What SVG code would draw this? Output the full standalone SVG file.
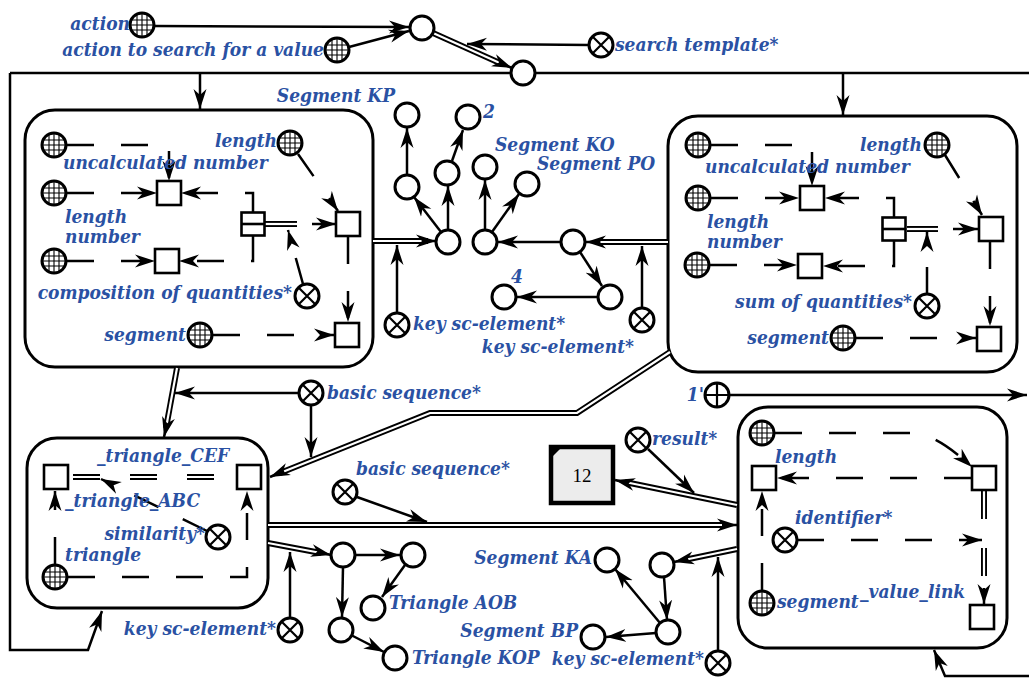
<svg xmlns="http://www.w3.org/2000/svg" width="1029" height="680" viewBox="0 0 1029 680">
<style>
.n{fill:#fff;stroke:#000;stroke-width:3}
.s{fill:#fff;stroke:#000;stroke-width:2.6}
.l{fill:none;stroke:#000;stroke-width:2.5}
.a{marker-end:url(#ar)}
.d{stroke-dasharray:27 27}
.bo{fill:none;stroke:#000;stroke-width:6}
.bi{fill:none;stroke:#fff;stroke-width:2.2}
.box{fill:#fff;stroke:#000;stroke-width:3}
.t{font-family:"DejaVu Serif",serif;font-stretch:condensed;font-weight:bold;font-style:italic;font-size:19px;fill:#2a51a3}
.e{text-anchor:end}
</style>
<defs>
<marker id="ar" markerUnits="userSpaceOnUse" markerWidth="22" markerHeight="14" refX="20" refY="7" orient="auto"><path d="M0,0.5L20,7L0,13.5L6,7Z" fill="#000"/></marker>
<g id="gr"><circle r="12" class="n"/><path d="M-5,-10.9V10.9M0,-12V12M5,-10.9V10.9M-10.9,-5H10.9M-12,0H12M-10.9,5H10.9" stroke="#000" stroke-width="1.1" fill="none"/></g>
<g id="tx"><circle r="12" class="n"/><path d="M-8.5,-8.5L8.5,8.5M-8.5,8.5L8.5,-8.5" stroke="#000" stroke-width="2.2"/></g>
<g id="pl"><circle r="12" class="n"/><path d="M0,-12V12M-12,0H12" stroke="#000" stroke-width="2.2"/></g>
<circle id="nd" r="12" class="n"/>
<rect id="sq" x="-12" y="-12" width="24" height="24" class="s"/>
<g id="sp"><rect x="-11.5" y="-11.5" width="23" height="23" class="s"/><path d="M-11.5,0H11.5" stroke="#000" stroke-width="2.6"/></g>
</defs>

<g id="box_composition"><rect class="box" x="25" y="110" width="348" height="257" rx="30"/></g>
<g id="box_sum"><rect class="box" x="668" y="116" width="349" height="256" rx="30"/></g>
<g id="box_similarity"><rect class="box" x="27" y="438" width="241" height="170" rx="30"/></g>
<g id="box_value"><rect class="box" x="738" y="407" width="269" height="241" rx="30"/></g>

<g id="connectors">
<path class="l a" d="M10,73V650H88L102,611"/>
<path class="l" d="M10,73H511"/>
<path class="l" d="M535,73H1029"/>
<path class="l a" d="M200,73V109"/>
<path class="l a" d="M843,73V115"/>
<path class="l a" d="M1029,676H945L934,650"/>

<path class="l a" d="M155,26L409,27"/>
<path class="l a" d="M349,47L409,31"/>
<path class="bo" d="M433,33L502,64"/><path class="bi" d="M433,33L502,64"/><path class="l a" d="M500,63L512,68"/>
<path class="l a" d="M589,45L467,44"/>

<path class="l d a" d="M67,145H169V181"/>
<path class="l d a" d="M67,193H157"/>
<path class="l d a" d="M253,212V193H181"/>
<path class="l d a" d="M253,236V261H179"/>
<path class="l d a" d="M67,261H155"/>
<path class="bo" d="M265,224H297"/><path class="bi" d="M265,224H297"/>
<path class="l a" d="M312,224H336"/>
<path class="l d a" d="M303,284L288,230"/>
<path class="l d a" d="M298,154L338,211"/>
<path class="l d a" d="M348,237V322"/>
<path class="l d a" d="M213,335H334"/>

<path class="l a" d="M407,175V128"/>
<path class="l a" d="M452,161L463,130"/>
<path class="l a" d="M441,232L414,197"/>
<path class="l a" d="M448,230V186"/>
<path class="l a" d="M485,230V180"/>
<path class="l a" d="M492,232L519,194"/>
<path class="bo" d="M373,241H428"/><path class="bi" d="M373,241H428"/><path class="l a" d="M424,241H436"/>
<path class="l a" d="M397,313V245"/>
<path class="l a" d="M561,242H498"/>
<path class="bo" d="M668,242H595"/><path class="bi" d="M668,242H595"/><path class="l a" d="M598,242H586"/>
<path class="l a" d="M642,308V246"/>
<path class="l a" d="M580,252L602,286"/>
<path class="l a" d="M598,297H517"/>

<path class="l d a" d="M711,145H812V186"/>
<path class="l d a" d="M711,198H799"/>
<path class="l d a" d="M894,217V198H825"/>
<path class="l d a" d="M894,241V266H823"/>
<path class="l d a" d="M710,265H797"/>
<path class="bo" d="M907,229H938"/><path class="bi" d="M907,229H938"/>
<path class="l a" d="M953,229H978"/>
<path class="l d a" d="M927,294V232"/>
<path class="l d a" d="M945,155L982,215"/>
<path class="l d a" d="M990,242V326"/>
<path class="l d a" d="M856,338H976"/>

<path class="bo" d="M177,368L166,428"/><path class="bi" d="M177,368L166,428"/><path class="l a" d="M167,424L164,437"/>
<path class="l a" d="M299,393H175"/>
<path class="l a" d="M311,405V457"/>
<path class="bo" d="M670,352L577,413H430L280,473"/><path class="bi" d="M670,352L577,413H430L280,473"/><path class="l a" d="M284,471L270,477"/>

<path class="bo" style="stroke-dasharray:27 30" d="M73,477H237"/><path class="bi" d="M73,477H237"/>
<path class="l d a" d="M207,531L101,479"/>
<path class="l d a" d="M55,564V491"/>
<path class="l d a" d="M68,577H247V491"/>

<path class="bo" d="M268,525H726"/><path class="bi" d="M268,525H726"/><path class="l a" d="M722,525H737"/>
<path class="l a" d="M357,497L427,522"/>
<path class="bo" d="M268,543L321,553"/><path class="bi" d="M268,543L321,553"/><path class="l a" d="M318,552L331,555"/>
<path class="l a" d="M290,618V552"/>
<path class="l a" d="M355,555H400"/>
<path class="l a" d="M343,567L342,617"/>
<path class="l a" d="M405,565L382,597"/>
<path class="l a" d="M351,635L384,652"/>

<path class="bo" d="M737,549L684,560"/><path class="bi" d="M737,549L684,560"/><path class="l a" d="M688,559L674,562"/>
<path class="l a" d="M718,651V557"/>
<path class="l a" d="M664,577L667,620"/>
<path class="l a" d="M660,623L615,569"/>
<path class="l a" d="M656,633L606,637"/>
<path class="bo" d="M737,505L625,482"/><path class="bi" d="M737,505L625,482"/><path class="l a" d="M628,483L615,480"/>
<path class="l a" d="M648,449L694,493"/>
<path class="l a" d="M730,395H1027"/>

<path class="l d a" d="M775,433H912Q935,433 972,467"/>
<path class="l d a" d="M971,478H777"/>
<path class="l d a" d="M797,540H982"/>
<path class="bo" style="stroke-dasharray:28 29" d="M984,491V594"/><path class="bi" d="M984,491V594"/><path class="l a" d="M984,588V604"/>
<path class="l d a" d="M762,590V491"/>
</g>

<g id="n_action"><use href="#gr" x="142" y="25"/><text class="t e" x="130" y="30">action</text></g>
<g id="n_action_search"><use href="#gr" x="337" y="50"/><text class="t e" x="324" y="56">action to search for a value</text></g>
<g id="n_c1"><use href="#nd" x="422" y="28"/></g>
<g id="n_c2"><use href="#nd" x="523" y="73"/></g>
<g id="n_template"><use href="#tx" x="601" y="45"/><text class="t" x="615" y="51">search template*</text></g>

<g id="n_l_g1"><use href="#gr" x="54" y="145"/></g>
<g id="n_l_g2"><use href="#gr" x="54" y="193"/></g>
<g id="n_l_g3"><use href="#gr" x="54" y="261"/></g>
<g id="n_l_length"><use href="#gr" x="290" y="143"/><text class="t e" x="277" y="147">length</text></g>
<g id="n_l_segment"><use href="#gr" x="200" y="335"/><text class="t e" x="186" y="341">segment</text></g>
<g id="n_l_sq1"><use href="#sq" x="169" y="193"/><text class="t" x="63" y="169">uncalculated number</text></g>
<g id="n_l_sq2"><use href="#sq" x="167" y="261"/><text class="t" x="65" y="223">length</text><text class="t" x="65" y="243">number</text></g>
<g id="n_l_sq3"><use href="#sq" x="348" y="224"/></g>
<g id="n_l_sq4"><use href="#sq" x="347" y="335"/></g>
<g id="n_l_split"><use href="#sp" x="253" y="224"/></g>
<g id="n_l_comp"><use href="#tx" x="307" y="296"/><text class="t e" x="292" y="299">composition of quantities*</text></g>

<g id="n_kp"><use href="#nd" x="407" y="115"/><text class="t e" x="395" y="102">Segment KP</text></g>
<g id="n_2"><use href="#nd" x="468" y="117"/><text class="t" x="483" y="118">2</text></g>
<g id="n_m1"><use href="#nd" x="407" y="187"/></g>
<g id="n_m2"><use href="#nd" x="447" y="173"/></g>
<g id="n_ko"><use href="#nd" x="485" y="167"/><text class="t" x="495" y="151">Segment KO</text></g>
<g id="n_po"><use href="#nd" x="527" y="184"/><text class="t" x="537" y="170">Segment PO</text></g>
<g id="n_m3"><use href="#nd" x="448" y="242"/></g>
<g id="n_m4"><use href="#nd" x="485" y="242"/></g>
<g id="n_m5"><use href="#nd" x="573" y="242"/></g>
<g id="n_m6"><use href="#nd" x="610" y="297"/></g>
<g id="n_4"><use href="#nd" x="504" y="297"/><text class="t" x="511" y="283">4</text></g>
<g id="n_key1"><use href="#tx" x="397" y="325"/><text class="t" x="413" y="330">key sc-element*</text></g>
<g id="n_key2"><use href="#tx" x="642" y="320"/><text class="t e" x="634" y="353">key sc-element*</text></g>

<g id="n_r_g1"><use href="#gr" x="698" y="145"/></g>
<g id="n_r_g2"><use href="#gr" x="698" y="198"/></g>
<g id="n_r_g3"><use href="#gr" x="697" y="265"/></g>
<g id="n_r_length"><use href="#gr" x="937" y="145"/><text class="t e" x="922" y="151">length</text></g>
<g id="n_r_segment"><use href="#gr" x="843" y="338"/><text class="t e" x="829" y="344">segment</text></g>
<g id="n_r_sq1"><use href="#sq" x="812" y="198"/><text class="t" x="705" y="173">uncalculated number</text></g>
<g id="n_r_sq2"><use href="#sq" x="810" y="266"/><text class="t" x="707" y="228">length</text><text class="t" x="707" y="248">number</text></g>
<g id="n_r_sq3"><use href="#sq" x="991" y="229"/></g>
<g id="n_r_sq4"><use href="#sq" x="989" y="339"/></g>
<g id="n_r_split"><use href="#sp" x="894" y="229"/></g>
<g id="n_r_sum"><use href="#tx" x="927" y="306"/><text class="t e" x="912" y="308">sum of quantities*</text></g>

<g id="n_basic1"><use href="#tx" x="311" y="393"/><text class="t" x="327" y="399">basic sequence*</text></g>
<g id="n_one"><use href="#pl" x="717" y="395"/><text class="t e" x="704" y="401">1'</text></g>

<g id="n_s_sq1"><use href="#sq" x="56" y="477"/></g>
<g id="n_s_sq2"><use href="#sq" x="249" y="477"/><text class="t" x="97" y="462">_triangle_CEF</text></g>
<g id="n_s_abc"><text class="t" x="65" y="507">_triangle_ABC</text></g>
<g id="n_s_sim"><use href="#tx" x="218" y="537"/><text class="t e" x="205" y="540">similarity*</text></g>
<g id="n_s_tri"><use href="#gr" x="55" y="577"/><text class="t" x="65" y="561">triangle</text></g>
<g id="n_key3"><use href="#tx" x="290" y="630"/><text class="t e" x="276" y="635">key sc-element*</text></g>

<g id="n_basic2"><use href="#tx" x="345" y="492"/><text class="t" x="356" y="475">basic sequence*</text></g>
<g id="n_b1"><use href="#nd" x="343" y="555"/></g>
<g id="n_b2"><use href="#nd" x="413" y="555"/></g>
<g id="n_aob"><use href="#nd" x="373" y="608"/><text class="t" x="389" y="609">Triangle AOB</text></g>
<g id="n_b3"><use href="#nd" x="341" y="630"/></g>
<g id="n_kop"><use href="#nd" x="395" y="658"/><text class="t" x="412" y="664">Triangle KOP</text></g>

<g id="n_12"><rect x="551" y="447" width="62" height="56" fill="#ececec" stroke="#000" stroke-width="4.5"/><path d="M553,449h7l-7,7z" fill="#000"/><text x="582" y="482" font-family="Liberation Serif" font-size="19" text-anchor="middle">12</text></g>
<g id="n_result"><use href="#tx" x="638" y="440"/><text class="t" x="652" y="445">result*</text></g>

<g id="n_ka"><use href="#nd" x="607" y="560"/><text class="t e" x="592" y="564">Segment KA</text></g>
<g id="n_f"><use href="#nd" x="662" y="565"/></g>
<g id="n_g"><use href="#nd" x="668" y="632"/></g>
<g id="n_bp"><use href="#nd" x="593" y="637"/><text class="t e" x="578" y="637">Segment BP</text></g>
<g id="n_key4"><use href="#tx" x="718" y="663"/><text class="t e" x="704" y="665">key sc-element*</text></g>

<g id="n_v_g1"><use href="#gr" x="762" y="433"/></g>
<g id="n_v_sqL"><use href="#sq" x="764" y="478"/><text class="t" x="775" y="463">length</text></g>
<g id="n_v_sqR"><use href="#sq" x="984" y="478"/></g>
<g id="n_v_id"><use href="#tx" x="785" y="540"/><text class="t" x="795" y="524">identifier*</text></g>
<g id="n_v_seg"><use href="#gr" x="762" y="603"/><text class="t" x="777" y="608">segment</text></g>
<g id="n_v_sqB"><use href="#sq" x="982" y="617"/><text class="t" x="860" y="598">_value_link</text></g>
</svg>
